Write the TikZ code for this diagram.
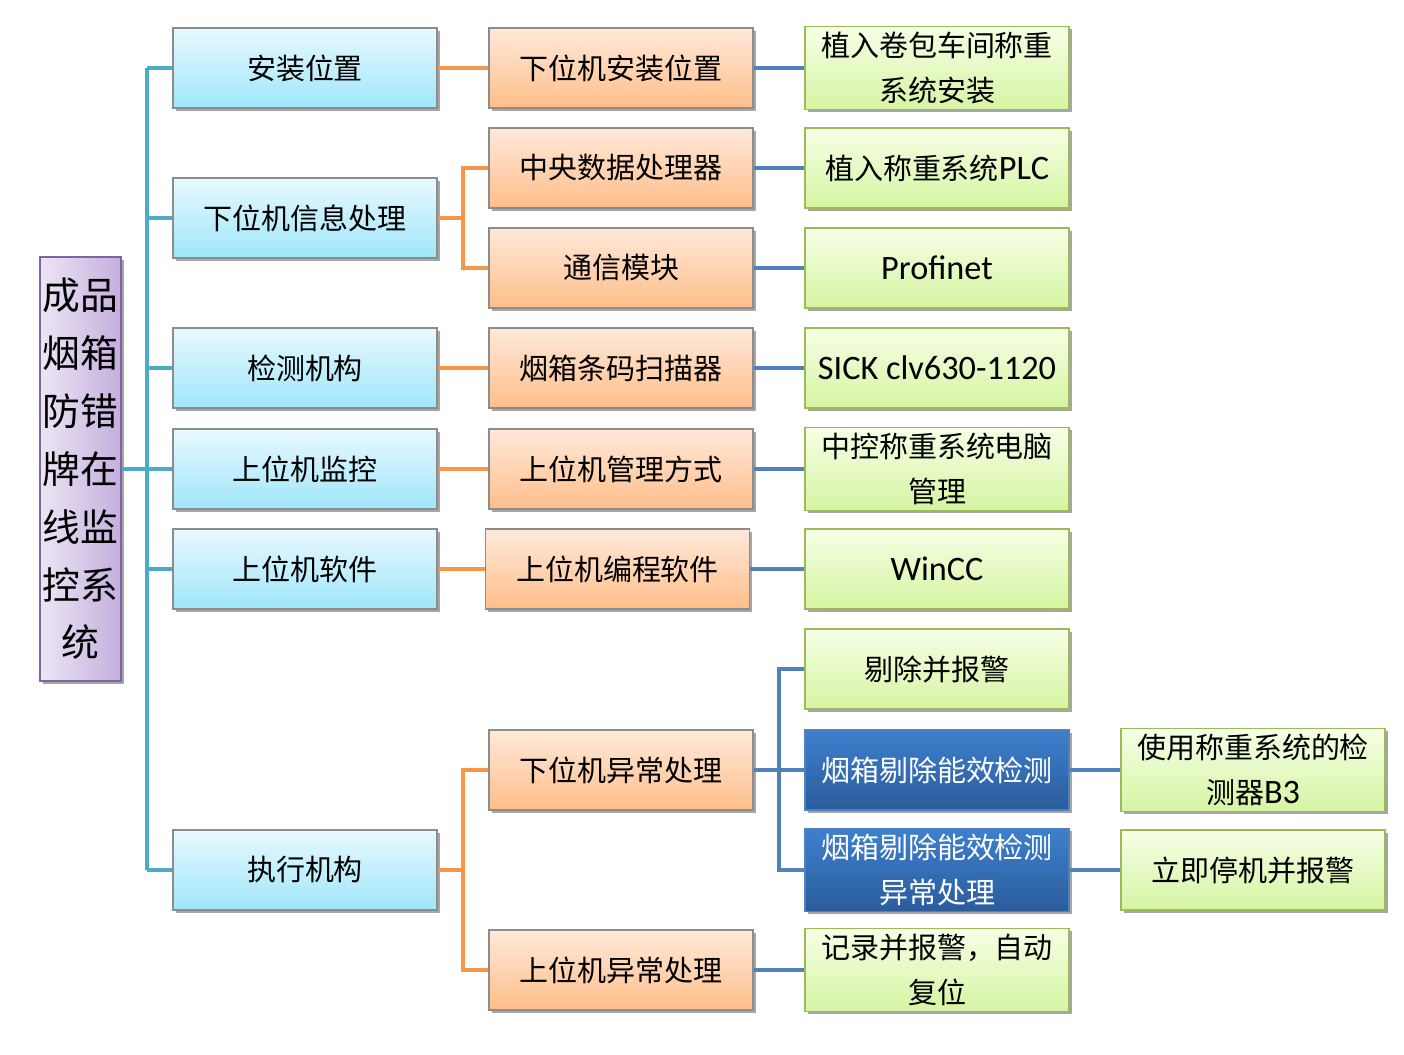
\documentclass[tikz,border=0pt]{standalone}
\usepackage{fontspec}
\setmainfont{Noto Sans CJK SC}
\newfontfamily\latfont{Carlito}
\usepackage{xcolor}
\usepackage{tikz}
\usetikzlibrary{shadows}

\definecolor{cyantop}{HTML}{E8F9FF}
\definecolor{cyanbot}{HTML}{9FE6FB}
\definecolor{orgtop}{HTML}{FFE9DA}
\definecolor{orgbot}{HTML}{FFBE8A}
\definecolor{grntop}{HTML}{F6FFE6}
\definecolor{grnbot}{HTML}{D6F4A2}
\definecolor{grnline}{HTML}{9BBB59}
\definecolor{dbtop}{HTML}{3D80CD}
\definecolor{dbbot}{HTML}{2B5C9C}
\definecolor{dbline}{HTML}{4F81BD}
\definecolor{purleft}{HTML}{ECE6F4}
\definecolor{purright}{HTML}{C4AFDE}
\definecolor{purline}{HTML}{8064A2}
\definecolor{teal}{HTML}{4BACC6}
\definecolor{orgline}{HTML}{F79646}

\newcommand{\lat}[1]{{\latfont\fontsize{19.5}{25.5}\selectfont #1}}

\begin{document}
\begin{tikzpicture}[
    box/.style={
        minimum width=5.28cm, minimum height=1.6cm,
        align=center, draw=gray!90, line width=0.6pt,
        font=\fontsize{16.5}{25.5}\selectfont,
        drop shadow={shadow xshift=1.5pt, shadow yshift=-1.5pt,
            opacity=0.35, fill=black}
    },
    lvlone/.style={box, top color=cyantop, bottom color=cyanbot},
    lvltwo/.style={box, top color=orgtop, bottom color=orgbot},
    lvlthree/.style={box, draw=grnline, top color=grntop, bottom color=grnbot},
    alarm/.style={box, draw=dbline, top color=dbtop, bottom color=dbbot,
        text=white},
    trunk/.style={line width=2.3pt, teal},
    olink/.style={line width=2.3pt, orgline},
    blink/.style={line width=2.3pt, dbline}
]

\useasboundingbox (0,0) rectangle (28.08,-21.10);

% Root
\node[draw=purline, line width=0.8pt, left color=purleft, right color=purright,
    minimum width=1.62cm, minimum height=8.48cm, inner xsep=0pt, align=center,
    font=\fontsize{21.5}{32.9}\selectfont,
    drop shadow={shadow xshift=1.5pt, shadow yshift=-1.5pt, opacity=0.35, fill=black}]
    (root) at (1.61,-9.38)
{成品\\烟箱\\防错\\牌在\\线监\\控系\\统};

% ---- First level ----
\node[lvlone] (az) at (6.10,-1.36)  {安装位置};
\node[lvlone] (xw) at (6.10,-4.36)  {下位机信息处理};
\node[lvlone] (jc) at (6.10,-7.36)  {检测机构};
\node[lvlone] (sj) at (6.10,-9.38)  {上位机监控};
\node[lvlone] (rj) at (6.10,-11.38) {上位机软件};
\node[lvlone] (zx) at (6.10,-17.40) {执行机构};

% ---- Second level ----
\node[lvltwo] (xaz) at (12.42,-1.36)  {下位机安装位置};
\node[lvltwo] (zy)  at (12.42,-3.36)  {中央数据处理器};
\node[lvltwo] (tx)  at (12.42,-5.36)  {通信模块};
\node[lvltwo] (sm)  at (12.42,-7.36)  {烟箱条码扫描器};
\node[lvltwo] (gl)  at (12.42,-9.38)  {上位机管理方式};
\node[lvltwo] (bc)  at (12.35,-11.38) {上位机编程软件};
\node[lvltwo] (xyc) at (12.42,-15.40) {下位机异常处理};
\node[lvltwo] (syc) at (12.42,-19.40) {上位机异常处理};

% ---- Third level ----
\node[lvlthree] (jb)  at (18.74,-1.36)  {植入卷包车间称重\\系统安装};
\node[lvlthree] (plc) at (18.74,-3.36)  {植入称重系统\lat{PLC}};
\node[lvlthree] (pn)  at (18.74,-5.36)  {\lat{Profinet}};
\node[lvlthree] (sick) at (18.74,-7.36) {\lat{SICK clv630-1120}};
\node[lvlthree] (dn)  at (18.74,-9.38)  {中控称重系统电脑\\管理};
\node[lvlthree] (wcc) at (18.74,-11.38) {\lat{WinCC}};
\node[lvlthree] (tc)  at (18.74,-13.38) {剔除并报警};
\node[alarm]    (nx)  at (18.74,-15.40) {烟箱剔除能效检测};
\node[alarm]    (nxy) at (18.74,-17.40) {烟箱剔除能效检测\\异常处理};
\node[lvlthree] (jl)  at (18.74,-19.40) {记录并报警，自动\\复位};

% ---- Fourth level ----
\node[lvlthree] (b3) at (25.06,-15.40) {使用称重系统的检\\测器\lat{B3}};
\node[lvlthree] (tj) at (25.06,-17.40) {立即停机并报警};

% Branch points
\coordinate (tr) at (2.94,0);
\coordinate (ob) at (9.26,0);
\coordinate (bb) at (15.58,0);

% Trunk
\draw[trunk] (root.east) -- (root.east -| tr);
\draw[trunk] (az.west -| tr) -- (zx.west -| tr);
\foreach \c in {az, xw, jc, sj, rj, zx}
    \draw[trunk] (\c.west) -- (\c.west -| tr);

% Orange links
\draw[olink] (az.east) -- (xaz.west);
\draw[olink] (xw.east) -- (xw.east -| ob);
\draw[olink] (zy.west) -- (zy.west -| ob) -- (tx.west -| ob) -- (tx.west);
\draw[olink] (jc.east) -- (sm.west);
\draw[olink] (sj.east) -- (gl.west);
\draw[olink] (rj.east) -- (bc.west);
\draw[olink] (zx.east) -- (zx.east -| ob);
\draw[olink] (xyc.west) -- (xyc.west -| ob) -- (syc.west -| ob) -- (syc.west);

% Blue links
\draw[blink] (xaz.east) -- (jb.west);
\draw[blink] (zy.east) -- (plc.west);
\draw[blink] (tx.east) -- (pn.west);
\draw[blink] (sm.east) -- (sick.west);
\draw[blink] (gl.east) -- (dn.west);
\draw[blink] (bc.east) -- (wcc.west);
\draw[blink] (xyc.east) -- (nx.west);
\draw[blink] (tc.west) -- (tc.west -| bb) -- (nxy.west -| bb) -- (nxy.west);
\draw[blink] (syc.east) -- (jl.west);
\draw[blink] (nx.east) -- (b3.west);
\draw[blink] (nxy.east) -- (tj.west);

\end{tikzpicture}
\end{document}
